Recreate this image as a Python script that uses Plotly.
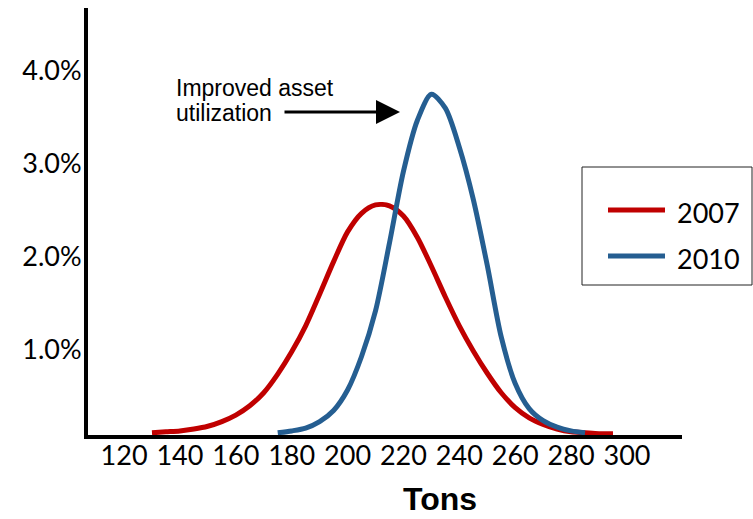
import plotly.graph_objects as go

# ---------------- data ----------------
tons_2007 = [130, 135, 140, 145, 150, 155, 160, 165, 170, 175, 180, 185, 190, 195,
             200, 205, 210, 215, 220, 225, 230, 235, 240, 245, 250, 255, 260, 265,
             270, 275, 280, 285, 290, 295]
pct_2007 = [0.11, 0.12, 0.13, 0.15, 0.18, 0.23, 0.30, 0.40, 0.54, 0.74, 0.98, 1.26,
            1.60, 1.95, 2.27, 2.47, 2.56, 2.55, 2.44, 2.21, 1.90, 1.57, 1.26, 0.99,
            0.75, 0.54, 0.38, 0.27, 0.20, 0.15, 0.12, 0.11, 0.10, 0.10]

tons_2010 = [175, 180, 185, 190, 195, 200, 205, 210, 215, 220, 225, 230, 235, 240,
             245, 250, 255, 260, 265, 270, 275, 280, 285]
pct_2010 = [0.11, 0.13, 0.16, 0.23, 0.35, 0.57, 0.93, 1.42, 2.15, 2.92, 3.47, 3.75,
            3.60, 3.18, 2.62, 1.91, 1.14, 0.64, 0.37, 0.24, 0.17, 0.13, 0.11]

series_names = ["2007", "2010"]
series_colors = ["#C00000", "#255E91"]

x_tickvals = [120, 140, 160, 180, 200, 220, 240, 260, 280, 300]
y_tickvals = [1, 2, 3, 4]
y_ticktext = ["1.0%", "2.0%", "3.0%", "4.0%"]

x_title = "Tons"
note_lines = ["Improved asset", "utilization"]

# ---------------- layout helpers ----------------
W, H = 753, 519
L, R, T, B = 88, 682, 8, 435  # plot area in pixels


def px(x):
    return (x - L) / (R - L)


def py(y):
    return (B - y) / (B - T)


TICK_FONT = dict(family="Lato, 'Open Sans', sans-serif", size=27, color="black")

fig = go.Figure()
for xs, ys, name, col in [(tons_2007, pct_2007, series_names[0], series_colors[0]),
                          (tons_2010, pct_2010, series_names[1], series_colors[1])]:
    fig.add_trace(go.Scatter(x=xs, y=ys, name=name, mode="lines",
                             line=dict(color=col, width=5, shape="spline", smoothing=0.8),
                             showlegend=False))

fig.update_layout(
    width=W, height=H,
    margin=dict(l=L, r=W - R, t=T, b=H - B, pad=0),
    paper_bgcolor="white", plot_bgcolor="white",
    showlegend=False,
)
fig.update_xaxes(range=[107.1, 319.7], tickvals=x_tickvals, showgrid=False, zeroline=False,
                 showline=True, linecolor="black", linewidth=4, ticks="",
                 tickfont=TICK_FONT, ticklabelstandoff=-6)
fig.update_yaxes(range=[0.086, 4.677], tickvals=y_tickvals, ticktext=y_ticktext,
                 showgrid=False, zeroline=False, showline=True, linecolor="black",
                 linewidth=4, ticks="", tickfont=TICK_FONT, ticklabelstandoff=-3)

# x-axis title
fig.add_annotation(text="<b>" + x_title + "</b>", xref="paper", yref="paper",
                   x=px(440), y=py(518), xanchor="center", yanchor="bottom",
                   showarrow=False, borderpad=0,
                   font=dict(family="Liberation Sans, Arial, sans-serif", size=32, color="black"))

# note text
NOTE_FONT = dict(family="Liberation Sans, Arial, sans-serif", size=23, color="black")
fig.add_annotation(text=note_lines[0], xref="paper", yref="paper", x=px(174), y=py(88),
                   xanchor="left", yanchor="middle", showarrow=False, font=NOTE_FONT)
fig.add_annotation(text=note_lines[1], xref="paper", yref="paper", x=px(174), y=py(113),
                   xanchor="left", yanchor="middle", showarrow=False, font=NOTE_FONT)
# arrow
fig.add_annotation(text="", xref="paper", yref="paper", x=px(400), y=py(112),
                   ax=-117, ay=0, showarrow=True, arrowhead=2, arrowsize=1.6,
                   arrowwidth=3, arrowcolor="black")

# manual legend
fig.add_shape(type="rect", xref="paper", yref="paper", x0=px(582), x1=px(752),
              y0=py(285), y1=py(167), line=dict(color="#222222", width=1),
              fillcolor="white", layer="above")
for i, (name, col) in enumerate(zip(series_names, series_colors)):
    yy = [210, 256][i]
    fig.add_shape(type="line", xref="paper", yref="paper", x0=px(608), x1=px(665),
                  y0=py(yy), y1=py(yy), line=dict(color=col, width=5), layer="above")
    fig.add_annotation(text=name, xref="paper", yref="paper", x=px(675), y=py(yy + 2),
                       xanchor="left", yanchor="middle", showarrow=False, font=TICK_FONT)

fig.write_html("out.html")
